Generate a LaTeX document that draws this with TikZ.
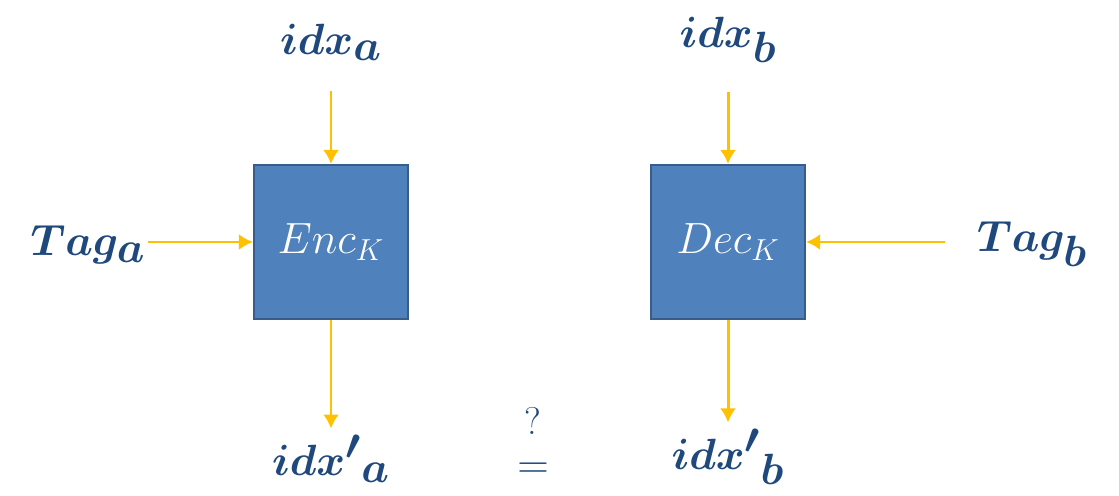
\documentclass[tikz,border=0pt]{standalone}
\usepackage{amsmath, amssymb}
\usepackage{xcolor}
\usepackage{tikz}
\usetikzlibrary{calc, arrows.meta, positioning}

\definecolor{txtblue}{HTML}{1F497D}
\definecolor{boxfill}{HTML}{4F81BD}
\definecolor{boxline}{HTML}{385D8A}
\definecolor{flowgold}{HTML}{FFC000}

\tikzset{
    blockbox/.style={draw=boxline, line width=1.2pt, fill=boxfill, minimum size=3.08cm,
        inner sep=0pt, text=white, font=\fontsize{25}{27}\selectfont},
    lbl/.style={text=txtblue, font=\fontsize{33}{35}\selectfont, inner sep=1pt},
    flow/.style={->, draw=flowgold, line width=1.7pt}
}

\begin{document}
\begin{tikzpicture}[>={Latex[length=2.8mm,width=3.2mm]}]
    \useasboundingbox (0,0) rectangle (22.38,-9.9);

    % 1. Hai khối
    \node[blockbox] (enc) at (6.62,-4.84) {$Enc_K$};
    \node[blockbox] (dec) at (14.56,-4.84) {$Dec_K$};

    % 2. Nhãn vào / ra
    \node[lbl] (idxa) at (6.62,-0.85) {$\boldsymbol{idx_a}$};
    \node[lbl] (idxb) at (14.56,-0.8) {$\boldsymbol{idx_b}$};
    \node[lbl] (taga) at (1.76,-4.9) {$\boldsymbol{Tag_a}$};
    \node[lbl] (tagb) at (20.64,-4.88) {$\boldsymbol{Tag_b}$};
    \node[lbl] (idxpa) at (6.62,-9.18) {$\boldsymbol{{idx'}_a}$};
    \node[lbl] (idxpb) at (14.56,-9.14) {$\boldsymbol{{idx'}_b}$};
    \node[text=txtblue, align=center, inner sep=0pt, font=\fontsize{27}{20}\selectfont] (eq) at (10.66,-8.85)
        {{\fontsize{22}{22}\selectfont ?}\\[5pt]$=$};

    % 3. Mũi tên
    \draw[flow, shorten <=0.55cm] (enc.north |- idxa.south) -- (enc.north);
    \draw[flow, shorten <=0.55cm] (dec.north |- idxb.south) -- (dec.north);
    \draw[flow] (taga.east |- enc.west) -- (enc.west);
    \draw[flow, shorten <=0.6cm] (tagb.west |- dec.east) -- (dec.east);
    \draw[flow, shorten >=0.1cm] (enc.south) -- (enc.south |- idxpa.north);
    \draw[flow, shorten >=0.1cm] (dec.south) -- (dec.south |- idxpb.north);
\end{tikzpicture}
\end{document}
